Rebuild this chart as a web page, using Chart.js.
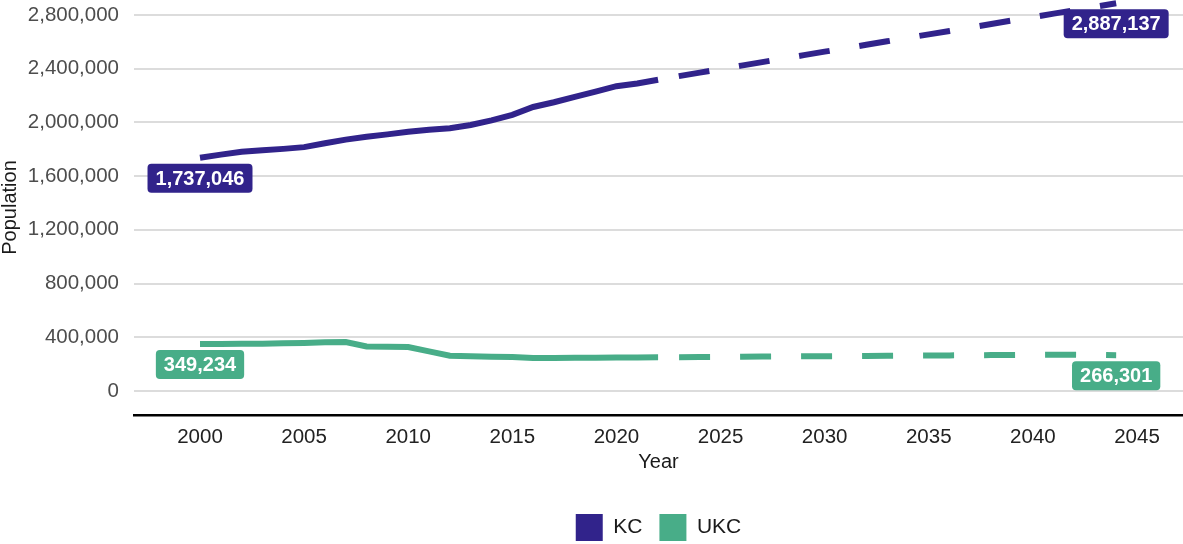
<!DOCTYPE html>
<html>
<head>
<meta charset="utf-8">
<script src="https://cdn.jsdelivr.net/npm/chart.js@4.4.0/dist/chart.umd.min.js"></script>
<style>
  html, body { margin: 0; padding: 0; background: #fff; }
  #wrap { width: 1183px; height: 544px; }
</style>
</head>
<body>
<div id="wrap"><canvas id="myChart"></canvas></div>
<script>
// years 2000-2022 are estimates, 2023-2044 projections
const years = [2000, 2001, 2002, 2003, 2004, 2005, 2006, 2007, 2008, 2009,
  2010, 2011, 2012, 2013, 2014, 2015, 2016, 2017, 2018, 2019,
  2020, 2021, 2022, 2023, 2024, 2025, 2026, 2027, 2028, 2029,
  2030, 2031, 2032, 2033, 2034, 2035, 2036, 2037, 2038, 2039,
  2040, 2041, 2042, 2043, 2044];

const kc = [1737046, 1760000, 1781000, 1792000, 1803000, 1816000, 1845000, 1872000, 1893000, 1911000,
  1931000, 1946000, 1957000, 1981000, 2015000, 2056000, 2115000, 2150000, 2190000, 2230000,
  2270000, 2290000, 2318000, 2345000, 2371000, 2397000, 2423000, 2449000, 2475000, 2501000,
  2527000, 2552000, 2578000, 2604000, 2630000, 2656000, 2681000, 2707000, 2733000, 2759000,
  2784000, 2810000, 2836000, 2861000, 2887137];

const ukc = [349234, 350000, 351000, 352000, 355000, 358000, 362000, 365000, 332000, 330000,
  327000, 295000, 263000, 258000, 254000, 253000, 245000, 246000, 247000, 248000,
  249000, 250000, 251000, 252000, 253000, 254000, 255000, 256000, 257000, 258000,
  259000, 260000, 261000, 262000, 263000, 264000, 265000, 266000, 267000, 268000,
  269000, 270000, 270000, 268000, 266301];

const xTicks = [2000, 2005, 2010, 2015, 2020, 2025, 2030, 2035, 2040, 2045];
const yTicks = [0, 400000, 800000, 1200000, 1600000, 2000000, 2400000, 2800000];
const projStart = 2022;

const kcColor = '#31238B';
const ukcColor = '#48AD88';

Chart.defaults.font.family = '"Liberation Sans", Arial, sans-serif';

// boxes with the first and last value of each line
const endLabels = {
  id: 'endLabels',
  afterDatasetsDraw(chart) {
    const ctx = chart.ctx;
    ctx.save();
    ctx.font = 'bold 20px "Liberation Sans", Arial, sans-serif';
    ctx.textAlign = 'center';
    ctx.textBaseline = 'middle';
    chart.data.datasets.forEach((ds, i) => {
      const meta = chart.getDatasetMeta(i);
      [0, ds.data.length - 1].forEach(j => {
        const pt = meta.data[j];
        const text = ds.data[j].y.toLocaleString('en-US');
        const w = ctx.measureText(text).width + 16;
        const h = 29;
        const top = pt.y + 6;
        ctx.fillStyle = ds.borderColor;
        ctx.beginPath();
        ctx.roundRect(pt.x - w / 2, top, w, h, 4);
        ctx.fill();
        ctx.fillStyle = '#fff';
        ctx.fillText(text, pt.x, top + h / 2 + 1);
      });
    });
    ctx.restore();
  }
};

const dashed = ctx => ctx.p0.parsed.x >= projStart ? [31, 30] : undefined;

function makeSet(label, values, color) {
  return {
    label: label,
    data: years.map((yr, i) => ({ x: yr, y: values[i] })),
    borderColor: color,
    backgroundColor: color,
    borderWidth: 6,
    borderCapStyle: 'butt',
    pointRadius: 0,
    tension: 0,
    segment: {
      borderDash: dashed,
      borderDashOffset: ctx => ctx.p0.parsed.x >= projStart ? 40 : 0
    }
  };
}

const legendPad = 17;

const chartCtx = document.getElementById('myChart').getContext('2d');
const myChart = new Chart(chartCtx, {
  type: 'line',
  data: {
    datasets: [makeSet('KC', kc, kcColor), makeSet('UKC', ukc, ukcColor)]
  },
  options: {
    responsive: true,
    maintainAspectRatio: false,
    animation: false,
    layout: { padding: { top: 0, left: 0, right: 0, bottom: -7 }, autoPadding: false },
    plugins: {
      legend: {
        position: 'bottom',
        fullSize: false,
        labels: {
          boxWidth: 27,
          boxHeight: 27,
          padding: legendPad,
          color: '#1a1a1a',
          font: { size: 21 },
          // plain filled squares, no thick outline
          generateLabels: chart => Chart.defaults.plugins.legend.labels.generateLabels(chart)
            .map(item => ({ ...item, lineWidth: 0 }))
        }
      },
      tooltip: { enabled: false }
    },
    scales: {
      x: {
        type: 'linear',
        min: 1996.83,
        max: 2047.21,
        afterBuildTicks: scale => { scale.ticks = xTicks.map(v => ({ value: v })); },
        afterFit: scale => {
          scale.height = 92 + 7 - legendPad;
          scale.paddingLeft = 0;
          scale.paddingRight = 0;
        },
        grid: { display: false, drawTicks: false },
        border: { display: true, color: '#000', width: 2.5 },
        ticks: {
          padding: 10,
          color: '#222',
          font: { size: 20.5 },
          callback: v => String(v)
        },
        title: {
          display: true,
          text: 'Year',
          color: '#1a1a1a',
          font: { size: 20 },
          padding: { top: 0, bottom: 23 }
        }
      },
      y: {
        min: -179000,
        max: 2911700,
        afterBuildTicks: scale => { scale.ticks = yTicks.map(v => ({ value: v })); },
        afterFit: scale => {
          scale.width = 134;
          scale.paddingTop = 0;
          scale.paddingBottom = 0;
        },
        grid: { color: '#dcdcdc', lineWidth: 2, drawTicks: false },
        border: { display: false },
        ticks: {
          padding: 15,
          color: '#4d4d4d',
          font: { size: 20.5 },
          callback: v => v.toLocaleString('en-US')
        },
        title: {
          display: true,
          text: 'Population',
          color: '#1a1a1a',
          font: { size: 20 },
          padding: { top: -2, bottom: 0 }
        }
      }
    }
  },
  plugins: [endLabels]
});
</script>
</body>
</html>
